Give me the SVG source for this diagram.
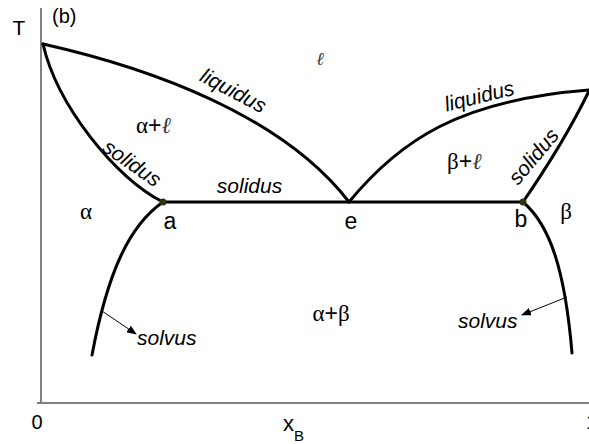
<svg xmlns="http://www.w3.org/2000/svg" width="589" height="444" viewBox="0 0 589 444">
<style>
.curve{fill:none;stroke:#000;stroke-width:3;stroke-linecap:round}
.axis{fill:none;stroke:#808080;stroke-width:2}
.lab{font-family:"Liberation Sans",Arial,sans-serif;font-size:21px;font-style:italic;fill:#000}
.pt{font-family:"Liberation Sans",Arial,sans-serif;font-size:23px;fill:#000}
.gr{font-family:"Liberation Serif","DejaVu Serif",serif;font-size:23px;fill:#000}
.sans{font-family:"Liberation Sans",Arial,sans-serif}
.ell{font-family:"DejaVu Serif","Liberation Serif",serif;font-style:italic;fill:#333}
.dot{fill:#333310}
.arr{stroke:#000;stroke-width:1;fill:none}
</style>
<defs>
<marker id="ah" markerWidth="10" markerHeight="8" refX="9" refY="4" orient="auto" markerUnits="userSpaceOnUse">
<path d="M0,0 L10,4 L0,8 Z" fill="#000"/>
</marker>
</defs>
<g id="axes">
<line class="axis" x1="41" y1="8" x2="41" y2="404"/>
<line class="axis" x1="37" y1="403" x2="589" y2="403"/>
<text x="19" y="35" class="sans" font-size="21" text-anchor="middle">T</text>
<text x="52" y="23" class="sans" font-size="20">(b)</text>
<text x="37" y="429" class="sans" font-size="20" text-anchor="middle">0</text>
<text x="586" y="429" class="sans" font-size="20">1</text>
<text x="283" y="431" class="sans" font-size="22">x<tspan font-size="15" dy="10">B</tspan></text>
</g>
<g id="connectors">
<path id="liquidus-left" class="curve" d="M43,44 C150,68 282,115 349,202"/>
<path id="liquidus-right" class="curve" d="M349,202 C400,140 460,100 589,90"/>
<path id="solidus-left" class="curve" d="M43,44 C57,105 115,178 163,202"/>
<path id="solidus-right" class="curve" d="M523,202 C545,170 570,130 589,91"/>
<line id="eutectic" class="curve" x1="163" y1="202" x2="523" y2="202"/>
<path id="solvus-left" class="curve" d="M163,202 C130,225 108,270 92,355"/>
<path id="solvus-right" class="curve" d="M523,202 C550,225 565,270 572,353"/>
<line class="arr" x1="102" y1="311" x2="136" y2="334" marker-end="url(#ah)"/>
<line class="arr" x1="567" y1="297" x2="522" y2="315" marker-end="url(#ah)"/>
</g>
<g id="point-a"><circle class="dot" cx="163" cy="202" r="3.5"/><text x="170" y="229" class="pt" text-anchor="middle">a</text></g>
<g id="point-e"><text x="351" y="229" class="pt" text-anchor="middle">e</text></g>
<g id="point-b"><circle class="dot" cx="523" cy="202" r="3.5"/><text x="521" y="227" class="pt" text-anchor="middle">b</text></g>
<g id="labels">
<text x="320" y="65" class="ell" font-size="18" text-anchor="middle">ℓ</text>
<text x="136" y="133" class="gr">α<tspan class="sans">+</tspan><tspan class="ell">ℓ</tspan></text>
<text x="447" y="169" class="gr">β<tspan class="sans">+</tspan><tspan class="ell">ℓ</tspan></text>
<text x="86" y="219" class="gr" text-anchor="middle">α</text>
<text x="566" y="219" class="gr" text-anchor="middle">β</text>
<text x="331" y="321" class="gr" text-anchor="middle">α<tspan class="sans">+</tspan>β</text>
<text class="lab" text-anchor="middle" transform="translate(230,97) rotate(28)">liquidus</text>
<text class="lab" text-anchor="middle" transform="translate(481,103) rotate(-14)">liquidus</text>
<text class="lab" text-anchor="middle" transform="translate(128,169) rotate(35)">solidus</text>
<text class="lab" text-anchor="middle" x="249.5" y="193">solidus</text>
<text class="lab" text-anchor="middle" transform="translate(539,161) rotate(-50)">solidus</text>
<text class="lab" x="137" y="345">solvus</text>
<text class="lab" x="458" y="328">solvus</text>
</g>
</svg>
